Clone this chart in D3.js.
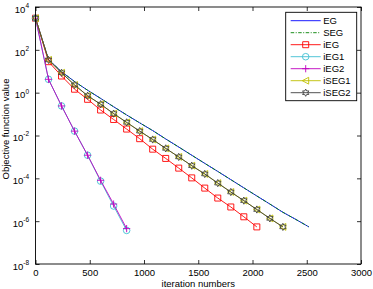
<!DOCTYPE html>
<html>
<head>
<meta charset="utf-8">
<script src="https://cdn.jsdelivr.net/npm/d3@7"></script>
<style>
  body { margin: 0; background: #fff; }
  svg { display: block; font-family: "Liberation Sans", Arial, Helvetica, sans-serif; }
  .axis text { font-size: 9.5px; fill: #000; }
  .axis line { stroke: #000; stroke-width: 0.8; }
  .axis .domain { display: none; }
</style>
</head>
<body>
<svg id="chart" width="373" height="289"></svg>
<script>
// iterations at which the curves were sampled (every 120)
var itersEG = [0, 120, 240, 360, 480, 600, 720, 840, 960, 1080, 1200, 1320, 1440, 1560, 1680, 1800, 1920, 2040, 2160, 2280, 2400, 2520];
var itersIEG = [0, 120, 240, 360, 480, 600, 720, 840, 960, 1080, 1200, 1320, 1440, 1560, 1680, 1800, 1920, 2040];
var itersISEG = [0, 120, 240, 360, 480, 600, 720, 840, 960, 1080, 1200, 1320, 1440, 1560, 1680, 1800, 1920, 2040, 2160, 2280];
var itersFast = [0, 120, 240, 360, 480, 600, 720, 840];

// objective function values
var valEG = [3.0e3, 35, 9.5, 3.3, 1.3, 0.54, 0.22, 9.1e-2, 3.9e-2, 1.7e-2, 6.9e-3, 2.9e-3, 1.2e-3, 5.0e-4, 2.1e-4, 8.7e-5, 3.6e-5, 1.5e-5, 6.3e-6, 2.6e-6, 1.2e-6, 5.4e-7];
var valSEG = [3.0e3, 35, 9.5, 3.3, 1.3, 0.54, 0.22, 9.1e-2, 3.9e-2, 1.7e-2, 6.9e-3, 2.9e-3, 1.2e-3, 5.0e-4, 2.1e-4, 8.7e-5, 3.6e-5, 1.5e-5, 6.3e-6, 2.6e-6, 1.2e-6, 5.4e-7];
var valIEG = [3.0e3, 28, 6.0, 1.45, 0.49, 0.155, 5.6e-2, 2.0e-2, 7.1e-3, 2.3e-3, 8.5e-4, 3.0e-4, 1.05e-4, 3.5e-5, 1.2e-5, 4.6e-6, 1.6e-6, 5.4e-7];
var valIEG1 = [3.0e3, 4.2, 0.24, 1.6e-2, 1.2e-3, 7.4e-5, 5.1e-6, 3.7e-7];
var valIEG2 = [3.0e3, 4.2, 0.24, 1.6e-2, 1.2e-3, 8.1e-5, 6.3e-6, 4.5e-7];
var valISEG1 = [3.0e3, 34, 8.5, 2.3, 0.72, 0.29, 0.105, 4.1e-2, 1.6e-2, 6.5e-3, 2.5e-3, 1.0e-3, 3.9e-4, 1.6e-4, 6.0e-5, 2.3e-5, 9.1e-6, 3.5e-6, 1.35e-6, 5.4e-7];
var valISEG2 = [3.0e3, 34, 8.5, 2.3, 0.72, 0.29, 0.105, 4.1e-2, 1.6e-2, 6.5e-3, 2.5e-3, 1.0e-3, 3.9e-4, 1.6e-4, 6.0e-5, 2.3e-5, 9.1e-6, 3.5e-6, 1.35e-6, 5.4e-7];

var seriesNames = ['EG', 'SEG', 'iEG', 'iEG1', 'iEG2', 'iSEG1', 'iSEG2'];
var xTicks = [0, 500, 1000, 1500, 2000, 2500, 3000];
var yTicks = [1e-8, 1e-6, 1e-4, 1e-2, 1e0, 1e2, 1e4];

(function () {
    var svg = d3.select('#chart');
    var L = 35.5, R = 361, T = 7, B = 264;

    var x = d3.scaleLinear().domain([0, 3000]).range([L, R]);
    var y = d3.scaleLog().domain([1e-8, 1e4]).range([B, T]);

    var style = {
        EG:    { color: '#0000ff', dash: null, marker: null },
        SEG:   { color: '#008000', dash: '3.5,1.5,1,1.5', marker: null },
        iEG:   { color: '#ff0000', dash: null, marker: 'square' },
        iEG1:  { color: '#3fc0d2', dash: null, marker: 'circle' },
        iEG2:  { color: '#bf00bf', dash: null, marker: 'plus' },
        iSEG1: { color: '#bfbf00', dash: null, marker: 'tri' },
        iSEG2: { color: '#404040', dash: null, marker: 'hex' }
    };

    var data = {
        EG: [itersEG, valEG],
        SEG: [itersEG, valSEG],
        iEG: [itersIEG, valIEG],
        iEG1: [itersFast, valIEG1],
        iEG2: [itersFast, valIEG2],
        iSEG1: [itersISEG, valISEG1],
        iSEG2: [itersISEG, valISEG2]
    };

    function hexPath(ro, ri) {
        var p = [];
        for (var k = 0; k < 12; k++) {
            var a = -Math.PI / 2 + k * Math.PI / 6;
            var r = k % 2 === 0 ? ro : ri;
            p.push([r * Math.cos(a), r * Math.sin(a)]);
        }
        return 'M' + p.map(function (q) { return q[0].toFixed(2) + ',' + q[1].toFixed(2); }).join('L') + 'Z';
    }

    var markerPath = {
        square: 'M-3,-3H3V3H-3Z',
        circle: d3.symbol().type(d3.symbolCircle).size(34)(),
        plus: 'M-3.6,0H3.6M0,-3.6V3.6',
        tri: 'M-3.4,0L3,-3.4L3,3.4Z',
        hex: hexPath(3.6, 2.0)
    };

    // axes, ticks pointing inward on all four sides
    svg.append('g').attr('class', 'axis')
        .attr('transform', 'translate(0,' + B + ')')
        .call(d3.axisBottom(x).tickValues(xTicks).tickFormat(d3.format('d'))
            .tickSizeInner(-4).tickSizeOuter(0).tickPadding(5));
    svg.append('g').attr('class', 'axis')
        .attr('transform', 'translate(0,' + T + ')')
        .call(d3.axisTop(x).tickValues(xTicks).tickFormat('')
            .tickSizeInner(-4).tickSizeOuter(0));

    var gy = svg.append('g').attr('class', 'axis')
        .attr('transform', 'translate(' + L + ',0)')
        .call(d3.axisLeft(y).tickValues(yTicks).tickFormat('')
            .tickSizeInner(-4).tickSizeOuter(0).tickPadding(8));
    svg.append('g').attr('class', 'axis')
        .attr('transform', 'translate(' + R + ',0)')
        .call(d3.axisRight(y).tickValues(yTicks).tickFormat('')
            .tickSizeInner(-4).tickSizeOuter(0));

    // y labels as 10 with superscript exponent
    gy.selectAll('.tick text').each(function (d) {
        var t = d3.select(this);
        var e = Math.round(Math.log10(d));
        t.attr('x', -6.5).attr('dy', '0.55em');
        t.append('tspan').text('10');
        t.append('tspan').attr('dy', '-0.75em').style('font-size', '6.5px')
            .text(e < 0 ? '-' + (-e) : String(e));
    });

    var line = d3.line()
        .x(function (d) { return x(d[0]); })
        .y(function (d) { return y(d[1]); });

    var gPlot = svg.append('g');
    seriesNames.forEach(function (name) {
        var s = style[name];
        var pts = data[name][0].map(function (it, i) { return [it, data[name][1][i]]; });
        gPlot.append('path').datum(pts)
            .attr('d', line)
            .attr('fill', 'none')
            .attr('stroke', s.color)
            .attr('stroke-width', 0.9)
            .attr('stroke-dasharray', s.dash);
        if (s.marker) {
            gPlot.selectAll(null).data(pts).enter().append('path')
                .attr('d', markerPath[s.marker])
                .attr('transform', function (d) { return 'translate(' + x(d[0]) + ',' + y(d[1]) + ')'; })
                .attr('fill', 'none')
                .attr('stroke', s.color)
                .attr('stroke-width', 0.9);
        }
    });

    // frame
    svg.append('rect')
        .attr('x', L).attr('y', T).attr('width', R - L).attr('height', B - T)
        .attr('fill', 'none').attr('stroke', '#000').attr('stroke-width', 0.9);

    // axis titles
    svg.append('text')
        .attr('x', (L + R) / 2).attr('y', 286.5)
        .attr('text-anchor', 'middle')
        .style('font-size', '9.5px')
        .text('iteration numbers');
    svg.append('text')
        .attr('transform', 'translate(' + 9 + ',' + 129 + ') rotate(-90)')
        .attr('text-anchor', 'middle')
        .style('font-size', '9.5px')
        .text('Objective function value');

    // legend
    var lg = svg.append('g').attr('transform', 'translate(285.7,12.3)');
    lg.append('rect').attr('width', 71).attr('height', 88.4)
        .attr('fill', '#fff').attr('stroke', '#000').attr('stroke-width', 0.9);
    seriesNames.forEach(function (name, i) {
        var s = style[name];
        var yy = 8.4 + i * 12;
        lg.append('line')
            .attr('x1', 5).attr('x2', 35).attr('y1', yy).attr('y2', yy)
            .attr('stroke', s.color).attr('stroke-width', 0.9)
            .attr('stroke-dasharray', s.dash);
        if (s.marker) {
            lg.append('path').attr('d', markerPath[s.marker])
                .attr('transform', 'translate(20,' + yy + ')')
                .attr('fill', 'none').attr('stroke', s.color).attr('stroke-width', 0.9);
        }
        lg.append('text').attr('x', 37.5).attr('y', yy).attr('dy', '0.35em')
            .style('font-size', '9.5px')
            .text(name);
    });
})();
</script>
</body>
</html>
